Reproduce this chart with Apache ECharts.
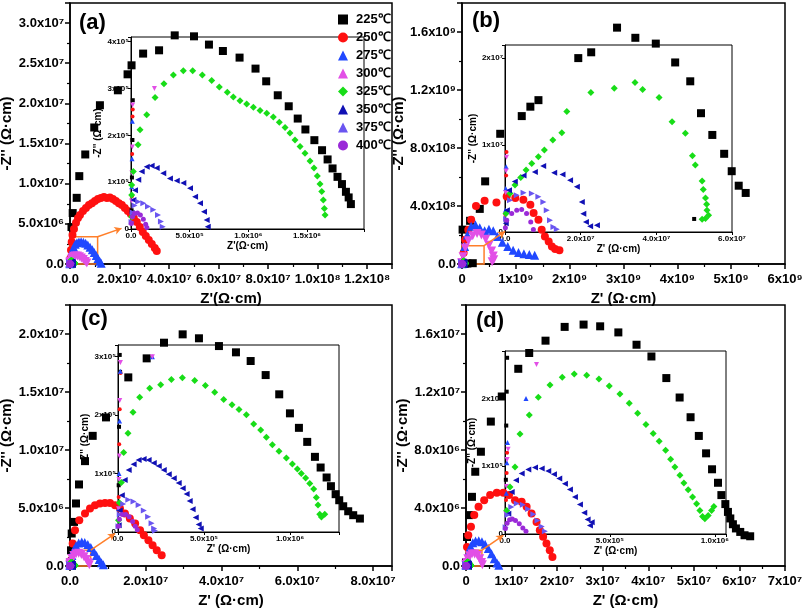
<!DOCTYPE html>
<html><head><meta charset="utf-8">
<script src="https://cdn.jsdelivr.net/npm/echarts/dist/echarts.min.js"></script>
<style>html,body{margin:0;padding:0;background:#fff}#c{width:805px;height:609px}</style>
</head><body><div id="c"></div>
<script>
const temps = ['225℃','250℃','275℃','300℃','325℃','350℃','375℃','400℃'];
const colors = ['#000000','#ff1010','#2048ff','#e24fe6','#18dd18','#1010b4','#6a55f0','#9a2ad8'];
const symbols = ['rect','circle','triangle','triangle','diamond','triangle','triangle','circle'];
const rotates = [0,0,0,180,0,90,-90,0];
const mainSizes = [8,8,9,9,8,8,8,7];
const insetSizes = [4,4,5,5,7,6,6,5];

// ---------- panel (a) ----------
const a225 = [[5e3,4e4],[8e3,1.1e5],[1.2e4,1.9e5],[1.5e4,2.75e5],[6e5,4.6e6],[1.09e6,6.34e6],[2.7e6,8.24e6],[3.75e6,1.094e7],[6.16e6,1.364e7],[9.79e6,1.70e7],[1.208e7,1.977e7],[1.933e7,2.163e7],[2.324e7,2.362e7],[2.485e7,2.474e7],[2.952e7,2.62e7],[3.596e7,2.661e7],[4.228e7,2.847e7],[5.006e7,2.835e7],[5.61e7,2.732e7],[6.173e7,2.652e7],[6.846e7,2.57e7],[7.49e7,2.433e7],[7.921e7,2.275e7],[8.388e7,2.101e7],[8.831e7,1.964e7],[9.194e7,1.811e7],[9.504e7,1.675e7],[9.866e7,1.542e7],[1.0176e8,1.417e7],[1.040e8,1.302e7],[1.060e8,1.19e7],[1.080e8,1.085e7],[1.098e8,9.95e6],[1.114e8,8.99e6],[1.125e8,8.29e6],[1.134e8,7.46e6]];
const a250 = [[8e3,7e4],[1e4,1.6e5],[1.3e4,2.4e5],[1.5e4,2.55e5],[2.0e5,7.5e5],[4.0e5,1.74e6],[6.8e5,2.74e6],[1.0e6,3.61e6],[1.61e6,4.35e6],[2.42e6,5.13e6],[3.22e6,5.72e6],[4.03e6,6.09e6],[5.24e6,6.59e6],[6.44e6,6.96e6],[7.65e6,7.34e6],[8.86e6,7.58e6],[1.007e7,7.83e6],[1.128e7,8.08e6],[1.248e7,8.21e6],[1.369e7,8.33e6],[1.49e7,8.21e6],[1.611e7,8.27e6],[1.732e7,8.08e6],[1.852e7,7.83e6],[1.973e7,7.58e6],[2.094e7,7.34e6],[2.215e7,6.96e6],[2.336e7,6.59e6],[2.456e7,6.22e6],[2.577e7,5.72e6],[2.698e7,5.22e6],[2.819e7,4.6e6],[2.94e7,3.98e6],[3.06e7,3.48e6],[3.181e7,2.98e6],[3.302e7,2.49e6],[3.423e7,1.99e6],[3.503e7,1.62e6]];
const a275 = [[4e3,3e4],[6e3,9e4],[9e3,1.5e5],[1.1e4,2.3e5],[3e5,6e5],[6e5,1.2e6],[1.0e6,1.7e6],[1.5e6,2.1e6],[2.1e6,2.45e6],[2.8e6,2.65e6],[3.6e6,2.75e6],[4.5e6,2.78e6],[5.4e6,2.72e6],[6.3e6,2.58e6],[7.2e6,2.38e6],[8.1e6,2.1e6],[9.0e6,1.78e6],[9.8e6,1.42e6],[1.06e7,1.05e6],[1.13e7,6.8e5],[1.2e7,3.5e5],[1.26e7,1e5]];
const a300 = [[5e3,6e4],[8e3,1.2e5],[1.1e4,1.75e5],[1.4e4,2.65e5],[2e5,3e5],[5e5,6e5],[9e5,8e5],[1.5e6,9.5e5],[2.2e6,1.0e6],[3e6,1.0e6],[3.8e6,9e5],[4.6e6,7.5e5],[5.4e6,5.5e5],[6.2e6,3.2e5],[6.8e6,1.2e5]];
const a325 = [[6e3,2.63e4],[6e3,7.27e4],[6e3,9.41e4],[1.96e4,1.226e5],[6e4,1.8e5],[7.7e4,2.12e5],[1.34e5,2.44e5],[2.05e5,2.81e5],[2.81e5,3.10e5],[3.61e5,3.29e5],[4.46e5,3.38e5],[5.26e5,3.38e5],[6.08e5,3.29e5],[6.88e5,3.17e5],[7.53e5,3.03e5],[8.21e5,2.92e5],[8.72e5,2.82e5],[9.29e5,2.74e5],[9.86e5,2.67e5],[1.043e6,2.60e5],[1.10e6,2.53e5],[1.157e6,2.47e5],[1.213e6,2.39e5],[1.264e6,2.28e5],[1.313e6,2.17e5],[1.355e6,2.05e5],[1.398e6,1.90e5],[1.441e6,1.76e5],[1.483e6,1.62e5],[1.526e6,1.45e5],[1.56e6,1.30e5],[1.588e6,1.13e5],[1.611e6,9.6e4],[1.626e6,8.0e4],[1.639e6,6.2e4],[1.648e6,4.4e4],[1.654e6,3.0e4]];
const a350 = [[6e3,3.4e4],[2e4,6.2e4],[3.4e4,8.3e4],[6.2e4,1.05e5],[9.1e4,1.23e5],[1.34e5,1.33e5],[1.76e5,1.35e5],[2.19e5,1.30e5],[2.75e5,1.19e5],[3.32e5,1.08e5],[3.9e5,1.03e5],[4.46e5,9.8e4],[5.03e5,8.7e4],[5.46e5,6.9e4],[5.88e5,5.5e4],[6.22e5,3.7e4],[6.45e5,1.9e4],[6.54e5,5e3]];
const a375 = [[5e3,1.5e4],[1.5e4,3.5e4],[3e4,5e4],[6.2e4,5.8e4],[1.05e5,5.5e4],[1.45e5,4.8e4],[1.9e5,4.1e4],[2.3e5,3e4],[2.55e5,1.6e4],[2.7e5,5e3]];
const a400 = [[3e3,1.2e4],[1.2e4,2.6e4],[3e4,3.3e4],[5.5e4,3.4e4],[8e4,3e4],[1.05e5,2.1e4],[1.25e5,1e4],[1.35e5,3e3]];

// ---------- panel (b) ----------
const b225 = [[5e7,1.5e6],[1e8,3.5e6],[2e8,5.6e6],[1.1e7,2.37e8],[1.5e8,2.98e8],[3.3e8,3.8e8],[4.3e8,5.7e8],[7.1e8,8.98e8],[1.11e9,1.02e9],[1.27e9,1.085e9],[1.42e9,1.13e9],[2.16e9,1.42e9],[2.4e9,1.46e9],[2.88e9,1.63e9],[3.22e9,1.56e9],[3.6e9,1.52e9],[3.96e9,1.39e9],[4.24e9,1.26e9],[4.44e9,1.04e9],[4.65e9,8.9e8],[4.87e9,7.6e8],[5.01e9,6.4e8],[5.14e9,5.4e8],[5.27e9,4.9e8]];
const b250 = [[1e5,2e6],[2e5,4e6],[3e5,6.5e6],[4e5,9.2e6],[3e7,7.8e7],[6e7,1.68e8],[1.17e8,2.36e8],[1.7e8,3.05e8],[2.6e8,4.0e8],[4.2e8,4.37e8],[6.4e8,4.25e8],[8.3e8,4.66e8],[9.9e8,4.55e8],[1.14e9,4.43e8],[1.27e9,4.09e8],[1.33e9,3.52e8],[1.42e9,3.06e8],[1.48e9,2.37e8],[1.54e9,1.9e8],[1.61e9,1.56e8],[1.67e9,1.21e8],[1.73e9,1.03e8],[1.81e9,9.4e7]];
const b275 = [[1e5,2.5e6],[2e5,5e6],[3e5,7.5e6],[2e7,3e7],[5e7,1.2e8],[1e8,2.0e8],[1.7e8,2.6e8],[2.5e8,2.7e8],[3.3e8,2.5e8],[4.2e8,2.3e8],[5e8,2.4e8],[5.8e8,2.3e8],[6.6e8,1.9e8],[7.5e8,1.5e8],[8.5e8,1.2e8],[9.5e8,9.5e7],[1.05e9,8e7],[1.15e9,7e7],[1.25e9,6.5e7],[1.35e9,6e7]];
const b300 = [[1e5,2e6],[2e5,4.5e6],[3e5,7e6],[4e5,8.6e6],[2e7,5e7],[6e7,1.1e8],[1.2e8,1.6e8],[2e8,1.95e8],[2.8e8,2.1e8],[3.6e8,2.0e8],[4.4e8,1.7e8],[5.0e8,1.3e8],[5.5e8,9e7],[5.8e8,5.5e7],[5.9e8,3e7],[5.6e8,1.5e7]];
const b325 = [[2.6e5,2.12e6],[1.32e6,4.43e6],[2.65e6,5.39e6],[4.16e6,6.27e6],[5.56e6,7.12e6],[7.07e6,7.89e6],[8.82e6,8.65e6],[1.041e7,9.42e6],[1.264e7,1.058e7],[1.502e7,1.142e7],[1.634e7,1.384e7],[2.27e7,1.603e7],[2.887e7,1.654e7],[3.436e7,1.719e7],[3.637e7,1.638e7],[4.072e7,1.546e7],[4.416e7,1.269e7],[4.768e7,1.135e7],[4.954e7,8.77e6],[5.03e7,7.69e6],[5.21e7,5.85e6],[5.24e7,4.89e6],[5.30e7,3.92e6],[5.33e7,3.19e6],[5.34e7,2.5e6],[5.38e7,1.93e6],[5.30e7,1.55e6],[5.21e7,1.46e6]];
const b350 = [[2e5,1.0e6],[5e5,2.5e6],[1.06e6,4.8e6],[2.6e6,5.8e6],[4.9e6,6.5e6],[7.9e6,6.9e6],[1.01e7,7.6e6],[1.30e7,6.8e6],[1.52e7,6.6e6],[1.72e7,5.96e6],[1.90e7,5.2e6],[2.03e7,3.46e6],[2.07e7,2.1e6],[2.14e7,1.15e6],[2.25e7,6.5e5],[2.43e7,7.7e5]];
const b375 = [[3e5,1.5e6],[1.32e6,3.65e6],[3.1e6,4.23e6],[4.9e6,4.5e6],[7.1e6,4.43e6],[8.82e6,4.04e6],[1.015e7,3.46e6],[1.104e7,2.5e6],[1.19e7,1.35e6],[1.28e7,5.8e5],[1.37e7,3.1e5]];
const b400 = [[1e5,5e5],[4.5e5,1.35e6],[1.77e6,2.12e6],[3.1e6,2.5e6],[4.4e6,2.58e6],[5.7e6,2.12e6],[6.8e6,1.15e6],[7.5e6,2.8e5]];

// ---------- panel (c) ----------
const c225 = [[4e3,8e4],[6e3,1.8e5],[1.2e4,2.74e5],[1e4,3.03e5],[2.6e5,1.35e6],[4.5e5,2.8e6],[1.06e6,3.8e6],[1.58e6,5.39e6],[2.38e6,7.03e6],[3.96e6,9.04e6],[5.99e6,1.122e7],[9.5e6,1.281e7],[1.539e7,1.626e7],[2.024e7,1.79e7],[2.481e7,1.925e7],[2.974e7,1.997e7],[3.404e7,1.963e7],[3.932e7,1.896e7],[4.381e7,1.842e7],[4.769e7,1.767e7],[5.165e7,1.646e7],[5.523e7,1.48e7],[5.806e7,1.316e7],[6.043e7,1.191e7],[6.262e7,1.07e7],[6.466e7,9.41e6],[6.616e7,8.49e6],[6.774e7,7.63e6],[6.888e7,6.88e6],[7.012e7,6.19e6],[7.107e7,5.67e6],[7.212e7,5.15e6],[7.344e7,4.72e6],[7.476e7,4.38e6],[7.653e7,4.09e6]];
const c250 = [[4e3,6e4],[7e3,1.5e5],[1e4,2.1e5],[1.5e4,2.72e5],[2.6e5,4.9e5],[7.1e5,1.93e6],[1.32e6,3.08e6],[2.45e6,3.94e6],[3.96e6,4.52e6],[5.28e6,4.95e6],[6.6e6,5.24e6],[7.92e6,5.39e6],[9.24e6,5.44e6],[1.056e7,5.44e6],[1.19e7,5.24e6],[1.32e7,4.95e6],[1.45e7,4.52e6],[1.58e7,4.09e6],[1.72e7,3.66e6],[1.85e7,3.08e6],[1.95e7,2.65e6],[2.07e7,2.22e6],[2.18e7,1.79e6],[2.29e7,1.36e6],[2.42e7,9.2e5]];
const c275 = [[3e3,4e4],[6e3,1.0e5],[9e3,1.9e5],[1.3e4,2.75e5],[2e5,3e5],[5e5,9e5],[1.0e6,1.4e6],[1.6e6,1.75e6],[2.3e6,1.98e6],[3.1e6,2.07e6],[3.9e6,2.02e6],[4.7e6,1.85e6],[5.5e6,1.6e6],[6.3e6,1.25e6],[7.0e6,9e5],[7.7e6,5.5e5],[8.3e6,2.8e5],[8.8e6,1e5]];
const c300 = [[3e3,4e4],[6e3,9e4],[8e3,1.3e5],[1e4,2.25e5],[1.4e4,2.9e5],[2e5,3e5],[5e5,6.5e5],[1.0e6,9e5],[1.6e6,1.05e6],[2.3e6,1.1e6],[3.0e6,1.0e6],[3.7e6,8e5],[4.3e6,5.5e5],[4.8e6,2.8e5],[5.1e6,1e5]];
const c325 = [[3e3,2e4],[8e3,5e4],[1.98e4,8.47e4],[3.31e4,1.362e5],[5.81e4,1.689e5],[8.72e4,2.05e5],[1.262e5,2.307e5],[1.843e5,2.462e5],[2.483e5,2.52e5],[3.105e5,2.611e5],[3.744e5,2.641e5],[4.459e5,2.594e5],[5.081e5,2.508e5],[5.622e5,2.393e5],[6.145e5,2.268e5],[6.628e5,2.177e5],[7.035e5,2.096e5],[7.465e5,2.005e5],[7.89e5,1.85e5],[8.297e5,1.747e5],[8.628e5,1.62e5],[8.977e5,1.495e5],[9.361e5,1.38e5],[9.791e5,1.266e5],[1.014e6,1.163e5],[1.043e6,1.077e5],[1.066e6,1.002e5],[1.091e6,9.23e4],[1.115e6,8.3e4],[1.138e6,7.34e4],[1.153e6,5.89e4],[1.163e6,4.64e4],[1.173e6,3.04e4],[1.183e6,2.58e4],[1.202e6,3.04e4]];
const c350 = [[4e3,1.15e4],[1e4,3.7e4],[2.2e4,6.3e4],[3.9e4,8.9e4],[6.2e4,1.06e5],[9.1e4,1.16e5],[1.2e5,1.23e5],[1.49e5,1.25e5],[1.78e5,1.23e5],[2.08e5,1.18e5],[2.37e5,1.13e5],[2.66e5,1.06e5],[2.95e5,9.9e4],[3.24e5,9.2e4],[3.53e5,8.4e4],[3.76e5,7.5e4],[3.99e5,6.5e4],[4.17e5,5.3e4],[4.34e5,3.9e4],[4.52e5,2.5e4],[4.69e5,1.3e4],[4.81e5,6e3]];
const c375 = [[3e3,1e4],[1e4,3e4],[3e4,4.8e4],[6e4,5.5e4],[9e4,5.2e4],[1.2e5,4.6e4],[1.5e5,3.7e4],[1.75e5,2.6e4],[1.95e5,1.5e4],[2.1e5,6e3],[2.15e5,2e3]];
const c400 = [[2e3,1e4],[8e3,2.2e4],[2.5e4,3e4],[4.5e4,3e4],[6.5e4,2.6e4],[8.5e4,1.8e4],[1.0e5,1.0e4],[1.12e5,4e3]];

// ---------- panel (d) ----------
const d225 = [[4e3,8e4],[6e3,1.6e5],[8e3,2.1e5],[1e4,2.6e5],[2.2e5,2.0e6],[7.2e5,3.51e6],[1.31e6,4.77e6],[2.03e6,6.5e6],[3.27e6,7.88e6],[5.45e6,9.96e6],[7.85e6,1.169e7],[1.147e7,1.36e7],[1.387e7,1.469e7],[1.745e7,1.554e7],[2.165e7,1.649e7],[2.58e7,1.665e7],[2.944e7,1.653e7],[3.343e7,1.611e7],[3.742e7,1.526e7],[4.069e7,1.445e7],[4.396e7,1.296e7],[4.688e7,1.162e7],[4.928e7,1.026e7],[5.109e7,8.97e6],[5.268e7,7.77e6],[5.399e7,6.67e6],[5.53e7,5.74e6],[5.604e7,4.89e6],[5.691e7,4.27e6],[5.748e7,3.73e6],[5.8e7,3.28e6],[5.857e7,2.88e6],[5.923e7,2.59e6],[6.018e7,2.35e6],[6.112e7,2.12e6],[6.236e7,2.05e6]];
const d250 = [[5e3,5e4],[8e3,9e4],[1e4,1.2e5],[2.2e5,1.31e6],[5.0e5,2.12e6],[1.09e6,2.70e6],[1.81e6,3.51e6],[2.75e6,4.08e6],[3.99e6,4.54e6],[5.3e6,4.89e6],[6.76e6,5.05e6],[8.2e6,5.05e6],[9.44e6,4.89e6],[1.075e7,4.54e6],[1.221e7,4.43e6],[1.33e7,4.08e6],[1.439e7,3.62e6],[1.548e7,3.04e6],[1.62e7,2.47e6],[1.692e7,2.01e6],[1.766e7,1.55e6],[1.838e7,1.08e6],[1.897e7,6.2e5]];
const d275 = [[6e3,6e4],[9e3,1.05e5],[1.2e4,1.35e5],[1e5,2e5],[3e5,6e5],[6e5,1.0e6],[1.0e6,1.35e6],[1.5e6,1.6e6],[2.1e6,1.72e6],[2.8e6,1.75e6],[3.5e6,1.68e6],[4.2e6,1.5e6],[4.9e6,1.2e6],[5.6e6,8.5e5],[6.2e6,5e5],[6.8e6,2e5],[7.2e6,5e4]];
const d300 = [[4e3,3e4],[7e3,7e4],[1e4,1.1e5],[1.5e4,1.25e5],[1.5e5,2.5e5],[4e5,5e5],[8e5,7e5],[1.3e6,8.2e5],[1.9e6,8.3e5],[2.5e6,7.2e5],[3.0e6,5e5],[3.4e6,2.5e5],[3.6e6,8e4]];
const d325 = [[8.1e3,3.48e4],[2.38e4,6.93e4],[4.76e4,9.89e4],[7.14e4,1.474e5],[1.157e5,1.755e5],[1.586e5,2.017e5],[2.143e5,2.199e5],[2.729e5,2.313e5],[3.3e5,2.362e5],[3.891e5,2.343e5],[4.476e5,2.288e5],[4.967e5,2.184e5],[5.476e5,2.066e5],[5.919e5,1.928e5],[6.319e5,1.78e5],[6.714e5,1.617e5],[7.062e5,1.484e5],[7.348e5,1.37e5],[7.653e5,1.237e5],[7.891e5,1.103e5],[8.095e5,9.89e4],[8.334e5,8.66e4],[8.524e5,7.52e4],[8.729e5,6.54e4],[8.938e5,5.45e4],[9.129e5,4.47e4],[9.286e5,3.48e4],[9.414e5,2.59e4],[9.524e5,2.25e4],[9.681e5,2.74e4],[9.843e5,3.48e4],[9.952e5,4.07e4]];
const d350 = [[1.57e4,2.99e4],[3.19e4,6.19e4],[5.24e4,7.92e4],[7.95e4,8.92e4],[1.11e5,9.51e4],[1.429e5,9.8e4],[1.748e5,9.66e4],[2.062e5,9.3e4],[2.333e5,8.81e4],[2.586e5,8.18e4],[2.857e5,7.43e4],[3.095e5,6.55e4],[3.333e5,5.45e4],[3.571e5,4.37e4],[3.776e5,3.14e4],[3.938e5,2.15e4],[4.048e5,1.26e4],[4.129e5,1.75e4]];
const d375 = [[3e3,1e4],[1.2e4,2.8e4],[3e4,4e4],[5.6e4,4.5e4],[8.5e4,4.3e4],[1.1e5,3.7e4],[1.35e5,2.9e4],[1.55e5,2e4],[1.75e5,1.1e4],[1.9e5,4e3]];
const d400 = [[2e3,8e3],[1e4,1.6e4],[2.2e4,2.1e4],[3.5e4,2.2e4],[5e4,2e4],[6.8e4,1.5e4],[8.5e4,9e3],[1.0e5,4e3]];

// tick labels
const aXLabels = ['0.0','2.0x10⁷','4.0x10⁷','6.0x10⁷','8.0x10⁷','1.0x10⁸','1.2x10⁸'];
const aYLabels = ['0.0','5.0x10⁶','1.0x10⁷','1.5x10⁷','2.0x10⁷','2.5x10⁷','3.0x10⁷'];
const aIXLabels = ['0.0','5.0x10⁵','1.0x10⁶','1.5x10⁶'];
const aIYLabels = ['0','1x10⁵','2x10⁵','3x10⁵','4x10⁵'];
const bXLabels = ['0','1x10⁹','2x10⁹','3x10⁹','4x10⁹','5x10⁹','6x10⁹'];
const bYLabels = ['0.0','4.0x10⁸','8.0x10⁸','1.2x10⁹','1.6x10⁹'];
const bIXLabels = ['0.0','2.0x10⁷','4.0x10⁷','6.0x10⁷'];
const bIYLabels = ['0','1x10⁷','2x10⁷'];
const cXLabels = ['0.0','2.0x10⁷','4.0x10⁷','6.0x10⁷','8.0x10⁷'];
const cYLabels = ['0.0','5.0x10⁶','1.0x10⁷','1.5x10⁷','2.0x10⁷'];
const cIXLabels = ['0.0','5.0x10⁵','1.0x10⁶'];
const cIYLabels = ['0','1x10⁵','2x10⁵','3x10⁵'];
const dXLabels = ['0','1x10⁷','2x10⁷','3x10⁷','4x10⁷','5x10⁷','6x10⁷','7x10⁷'];
const dYLabels = ['0.0','4.0x10⁶','8.0x10⁶','1.2x10⁷','1.6x10⁷'];
const dIXLabels = ['0.0','5.0x10⁵','1.0x10⁶'];
const dIYLabels = ['0','1x10⁵','2x10⁵'];

// zoom boxes (corner in data units) and arrow end points
const boxA = [1.115e7, 3.4e6], arrowA = [2.08e7, 4.44e6];
const boxB = [4.1e8, 1.26e8], arrowB = [8.0e8, 2.25e8];
const boxC = [5.46e6, 1.36e6], arrowC = [1.19e7, 2.8e6];
const boxD = [3.49e6, 1.09e6], arrowD = [8.2e6, 2.12e6];

const panels = [
  {data:[a225,a250,a275,a300,a325,a350,a375,a400], box:boxA, arrow:arrowA,
   main:{left:70,top:3,width:322,height:261, xmax:1.3e8, xint:2e7, ymax:3.25e7, yint:5e6, xl:aXLabels, yl:aYLabels, xname:"Z'(Ω·cm)", ygap:50},
   inset:{left:131,top:37,width:233,height:192, xmax:1.986e6, xint:5e5, ymax:4.1e5, yint:1e5, xl:aIXLabels, yl:aIYLabels, xname:"Z'(Ω·cm)"}},
  {data:[b225,b250,b275,b300,b325,b350,b375,b400], box:boxB, arrow:arrowB,
   main:{left:462,top:3,width:323,height:261, xmax:6e9, xint:1e9, ymax:1.8e9, yint:4e8, xl:bXLabels, yl:bYLabels, xname:"Z' (Ω·cm)", ygap:50},
   inset:{left:505,top:45,width:227,height:187, xmax:6e7, xint:2e7, ymax:2.15e7, yint:1e7, xl:bIXLabels, yl:bIYLabels, xname:"Z' (Ω·cm)"}},
  {data:[c225,c250,c275,c300,c325,c350,c375,c400], box:boxC, arrow:arrowC,
   main:{left:70,top:305,width:322,height:261, xmax:8.5e7, xint:2e7, ymax:2.25e7, yint:5e6, xl:cXLabels, yl:cYLabels, xname:"Z' (Ω·cm)", ygap:50},
   inset:{left:118,top:345,width:221,height:187, xmax:1.285e6, xint:5e5, ymax:3.2e5, yint:1e5, xl:cIXLabels, yl:cIYLabels, xname:"Z' (Ω·cm)"}},
  {data:[d225,d250,d275,d300,d325,d350,d375,d400], box:boxD, arrow:arrowD,
   main:{left:466,top:305,width:319,height:261, xmax:7e7, xint:1e7, ymax:1.8e7, yint:4e6, xl:dXLabels, yl:dYLabels, xname:"Z' (Ω·cm)", ygap:54},
   inset:{left:505,top:351,width:221,height:183, xmax:1.053e6, xint:5e5, ymax:2.7e5, yint:1e5, xl:dIXLabels, yl:dIYLabels, xname:"Z' (Ω·cm)"}}
];

const FONT = 'Arial';
function fmt(labels, interval){
  return function(v){
    const k = v / interval;
    const r = Math.round(k);
    if (Math.abs(k - r) > 1e-6) return '';
    return labels[r] !== undefined ? labels[r] : '';
  };
}

const grids = [], xAxes = [], yAxes = [], series = [];
panels.forEach((p, pi) => {
  [p.main, p.inset].forEach((g, k) => {
    const isMain = k === 0;
    grids.push({left:g.left, top:g.top, width:g.width, height:g.height, show:true,
      borderColor:'#000', borderWidth: isMain?1.5:1, backgroundColor:'transparent', containLabel:false, outerBoundsMode:'none'});
    const gi = grids.length - 1;
    xAxes.push({type:'value', gridIndex:gi, min:0, max:g.xmax, interval:g.xint,
      axisLine:{show:true, onZero:false, lineStyle:{color:'#000', width:isMain?1.5:1}},
      axisTick:{show:true, inside:false, length:isMain?5:3, lineStyle:{color:'#000', width:isMain?1.5:1}},
      minorTick:{show:isMain, splitNumber:2, length:3, lineStyle:{color:'#000', width:1.2}},
      splitLine:{show:false},
      axisLabel:{show:true, formatter:fmt(g.xl, g.xint), showMaxLabel:true, showMinLabel:true, color:'#000', fontFamily:FONT,
        fontWeight:'bold', fontSize:isMain?13:8, margin:isMain?9:3},
      name:g.xname, nameLocation:'middle', nameGap:isMain?27:-10,
      nameTextStyle:{fontFamily:FONT, fontWeight:'bold', fontSize:isMain?15:10, color:'#000'}});
    yAxes.push({type:'value', gridIndex:gi, min:0, max:g.ymax, interval:g.yint,
      axisLine:{show:true, onZero:false, lineStyle:{color:'#000', width:isMain?1.5:1}},
      axisTick:{show:true, inside:false, length:isMain?5:3, lineStyle:{color:'#000', width:isMain?1.5:1}},
      minorTick:{show:isMain, splitNumber:2, length:3, lineStyle:{color:'#000', width:1.2}},
      splitLine:{show:false},
      axisLabel:{show:true, formatter:fmt(g.yl, g.yint), showMaxLabel:true, showMinLabel:true, color:'#000', fontFamily:FONT,
        fontWeight:'bold', fontSize:isMain?13:8, margin:isMain?6:2},
      name:"-Z'' (Ω·cm)", nameLocation:'middle', nameGap:isMain?g.ygap:-9, nameRotate:90,
      nameTextStyle:{fontFamily:FONT, fontWeight:'bold', fontSize:isMain?15:10, color:'#000'}});
    p.data.forEach((arr, t) => {
      series.push({type:'scatter', name:temps[t], xAxisIndex:gi, yAxisIndex:gi, data:arr,
        symbol:symbols[t], symbolRotate:rotates[t], symbolSize:isMain?mainSizes[t]:insetSizes[t],
        itemStyle:{color:colors[t], opacity:1}, clip:true, silent:true, animation:false});
    });
    if (isMain) {
      series.push({type:'scatter', name:'zoom', xAxisIndex:gi, yAxisIndex:gi, data:[], silent:true, animation:false,
        markArea:{silent:true, itemStyle:{color:'rgba(0,0,0,0)', borderColor:'#ff7f2a', borderWidth:1.5},
          label:{show:false}, data:[[{coord:[0,0]},{coord:p.box}]]},
        markLine:{silent:true, symbol:['none','arrow'], symbolSize:[6,7], label:{show:false},
          lineStyle:{color:'#ff7f2a', width:1.5, type:'solid'}, data:[[{coord:p.box},{coord:p.arrow}]], animation:false}});
    }
  });
});

const panelTitles = [
  {text:'(a)', left:79, top:12},
  {text:'(b)', left:472, top:10},
  {text:'(c)', left:81, top:308},
  {text:'(d)', left:476, top:310}
].map(o => ({text:o.text, left:o.left, top:o.top, padding:0,
  textStyle:{fontFamily:FONT, fontWeight:'bold', fontSize:22, color:'#000'}}));

const chart = echarts.init(document.getElementById('c'), null, {renderer:'canvas'});
chart.setOption({
  backgroundColor:'#fff',
  animation:false,
  title: panelTitles,
  legend:{data:temps, left:333, top:8, orient:'vertical', itemWidth:10, itemHeight:10, itemGap:5,
    textStyle:{fontFamily:FONT, fontWeight:'bold', fontSize:13, color:'#000', padding:[0,0,0,3]}, selectedMode:false},
  grid:grids, xAxis:xAxes, yAxis:yAxes, series:series
});
</script></body></html>
